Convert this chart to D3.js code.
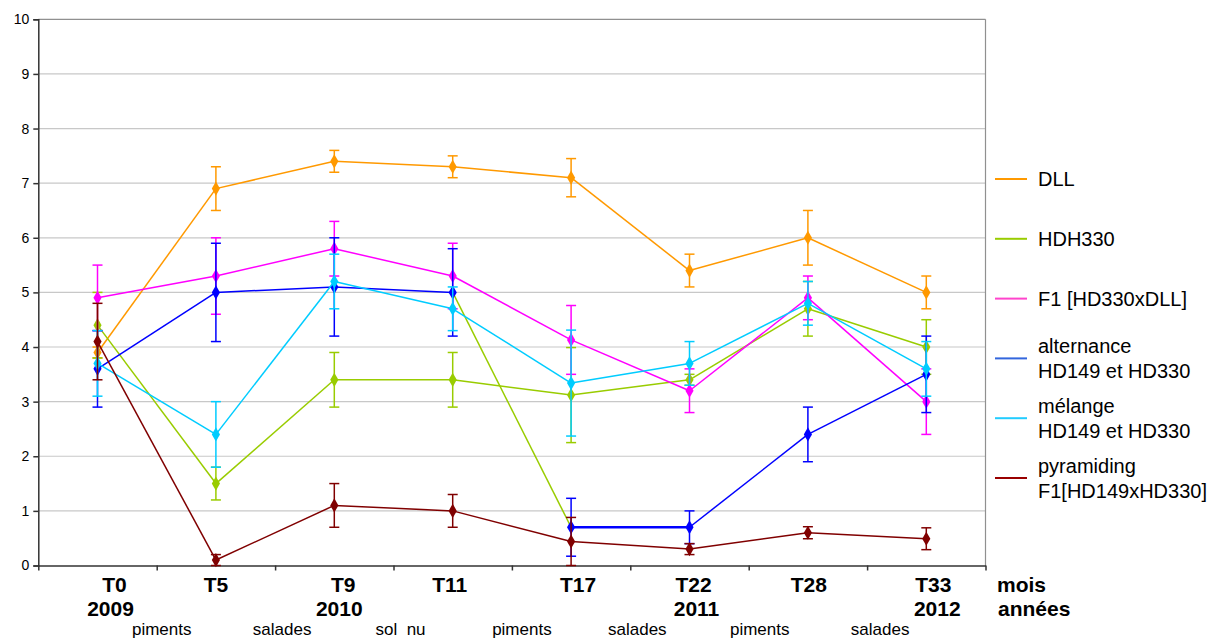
<!DOCTYPE html>
<html><head><meta charset="utf-8">
<script src="https://cdn.jsdelivr.net/npm/d3@7/dist/d3.min.js"></script>
<style>body{margin:0;background:#fff;} svg{display:block;font-family:"Liberation Sans",Arial,sans-serif;}</style>
</head><body><svg id="c" width="1220" height="640"></svg>
<script>
// ---- data ----
const categories = ["T0","T5","T9","T11","T17","T22","T28","T33"];
const years = ["2009","","2010","","","2011","","2012"];
const crops = ["piments","salades","sol  nu","piments","salades","piments","salades"];
const yTicks = [0,1,2,3,4,5,6,7,8,9,10];
const seriesNames = ["DLL","HDH330","F1 [HD330xDLL]","alternance|HD149 et HD330","mélange|HD149 et HD330","pyramiding|F1[HD149xHD330]"];
const dll        = [3.9, 6.9, 7.4, 7.3, 7.1, 5.4, 6.0, 5.0];
const dllErr     = [0.1, 0.4, 0.2, 0.2, 0.35, 0.3, 0.5, 0.3];
const hdh330     = [4.4, 1.5, 3.4, 3.4, 3.12, 3.4, 4.7, 4.0];
const hdh330Err  = [0.6, 0.3, 0.5, 0.5, 0.87, 0.1, 0.5, 0.5];
const f1         = [4.9, 5.3, 5.8, 5.3, 4.13, 3.2, 4.9, 3.0];
const f1Err      = [0.6, 0.7, 0.5, 0.6, 0.63, 0.4, 0.4, 0.6];
const alternance = [3.6, 5.0, 5.1, 5.0, 0.7, 0.7, 2.4, 3.5];
const alternErr  = [0.7, 0.9, 0.9, 0.8, 0.53, 0.3, 0.5, 0.7];
const melange    = [3.7, 2.4, 5.2, 4.7, 3.34, 3.7, 4.8, 3.6];
const melangeErr = [0.6, 0.6, 0.5, 0.4, 0.97, 0.4, 0.4, 0.5];
const pyramiding = [4.1, 0.1, 1.1, 1.0, 0.44, 0.3, 0.6, 0.49];
const pyramErr   = [0.7, 0.1, 0.4, 0.3, 0.44, 0.1, 0.11, 0.2];

// ---- styles / layout ----
const colors = ["#FF9900","#99CC00","#FF00FF","#0000FF","#00CCFF","#800000"];
const legendColors = ["#FF9900","#99CC00","#FF44CC","#3366DD","#22CCFF","#990000"];
const values = [dll,hdh330,f1,alternance,melange,pyramiding];
const errors = [dllErr,hdh330Err,f1Err,alternErr,melangeErr,pyramErr];
// segment colour overrides: series index -> {segment end index: colour}
const segOverride = {3: {4: "#99CC00"}};
const segWidth = {3: {5: 2.6}};
const catShift = [17,0,9,-3,7,4,1,7];
const yearShift = [13,0,5,0,0,7,0,11];
const cropShift = [5,7,7,10,7,11,13];

const svg = d3.select("#c");
const L = 38.3, R = 985.5, T = 19.3, B = 565.5;
const x = d3.scaleBand().domain(categories).range([L,R]);
const cx = c => x(c) + x.bandwidth()/2;
const y = d3.scaleLinear().domain([0,10]).range([B,T]);
const xb = d3.scaleLinear().domain([0,categories.length]).range([L,R]);

// gridlines
svg.append("g").selectAll("line").data(yTicks.filter(v=>v>0)).join("line")
  .attr("x1",L).attr("x2",R).attr("y1",d=>y(d)).attr("y2",d=>y(d))
  .attr("stroke",d=>d===10?"#909090":"#C8C8C8").attr("stroke-width",1.2);
// right border
svg.append("line").attr("x1",R).attr("x2",R).attr("y1",T).attr("y2",B).attr("stroke","#909090").attr("stroke-width",1.2);

// y axis
const ya = svg.append("g").attr("transform",`translate(${L},0)`)
  .call(d3.axisLeft(y).tickValues(yTicks).tickSize(5).tickPadding(4).tickFormat(d3.format("d")));
ya.selectAll("text").attr("font-size",14).attr("fill","#000").attr("font-family","Liberation Sans, Arial, sans-serif");
ya.selectAll("line,path").attr("stroke","#333").attr("stroke-width",1.5);

// x axis (ticks at band boundaries)
const xa = svg.append("g").attr("transform",`translate(0,${B})`)
  .call(d3.axisBottom(xb).tickValues(d3.range(categories.length+1)).tickSize(5).tickSizeOuter(0).tickFormat(""));
xa.selectAll("line,path").attr("stroke","#333").attr("stroke-width",1.5);

// category labels
const lab = svg.append("g").attr("font-family","Liberation Sans, Arial, sans-serif").attr("fill","#000");
lab.selectAll("text.cat").data(categories).join("text").attr("class","cat")
  .attr("x",(d,i)=>cx(d)+catShift[i]).attr("y",592).attr("text-anchor","middle")
  .attr("font-size",21).attr("font-weight","bold").text(d=>d);
lab.selectAll("text.yr").data(years).join("text").attr("class","yr")
  .attr("x",(d,i)=>cx(categories[i])+yearShift[i]).attr("y",616).attr("text-anchor","middle")
  .attr("font-size",21).attr("font-weight","bold").text(d=>d);
lab.selectAll("text.crop").data(crops).join("text").attr("class","crop")
  .attr("x",(d,i)=>xb(i+1)+cropShift[i]).attr("y",634.5).attr("text-anchor","middle")
  .attr("font-size",17).style("white-space","pre").attr("xml:space","preserve").text(d=>d);
lab.append("text").attr("x",997).attr("y",592).attr("font-size",21).attr("font-weight","bold").text("mois");
lab.append("text").attr("x",998).attr("y",616).attr("font-size",21).attr("font-weight","bold").text("années");

// series
const plot = svg.append("g");
values.forEach((vals,s)=>{
  const g = plot.append("g");
  const col = colors[s];
  // error bars
  vals.forEach((v,i)=>{
    const e = errors[s][i];
    const px = cx(categories[i]);
    g.append("line").attr("x1",px).attr("x2",px).attr("y1",y(v+e)).attr("y2",y(Math.max(0,v-e)))
      .attr("stroke",col).attr("stroke-width",1.5);
    [v+e, v-e].forEach(t=>{
      if (t < 0) return;
      g.append("line").attr("x1",px-5).attr("x2",px+5).attr("y1",y(t)).attr("y2",y(t))
        .attr("stroke",col).attr("stroke-width",1.5);
    });
  });
  // line segments
  for (let i=1;i<vals.length;i++){
    const c = (segOverride[s] && segOverride[s][i]) || col;
    const w = (segWidth[s] && segWidth[s][i]) || 1.5;
    g.append("line").attr("x1",cx(categories[i-1])).attr("y1",y(vals[i-1]))
      .attr("x2",cx(categories[i])).attr("y2",y(vals[i]))
      .attr("stroke",c).attr("stroke-width",w);
  }
  // markers
  g.selectAll("path.m").data(vals).join("path").attr("class","m")
    .attr("d",d3.symbol().type(d3.symbolDiamond).size(58))
    .attr("transform",(d,i)=>`translate(${cx(categories[i])},${y(d)})`)
    .attr("fill",col);
});

// legend
const leg = svg.append("g").attr("font-family","Liberation Sans, Arial, sans-serif").attr("font-size",20).attr("fill","#000");
seriesNames.forEach((n,i)=>{
  const yc = 179 + i*59.8;
  leg.append("line").attr("x1",995).attr("x2",1027).attr("y1",yc).attr("y2",yc)
    .attr("stroke",legendColors[i]).attr("stroke-width",2);
  const lines = n.split("|");
  const t = leg.append("text").attr("x",1038);
  if (lines.length===1){
    t.attr("y",yc+7).text(lines[0]);
  } else {
    t.append("tspan").attr("x",1038).attr("y",yc-5).text(lines[0]);
    t.append("tspan").attr("x",1038).attr("y",yc+20).text(lines[1]);
  }
});
</script></body></html>
